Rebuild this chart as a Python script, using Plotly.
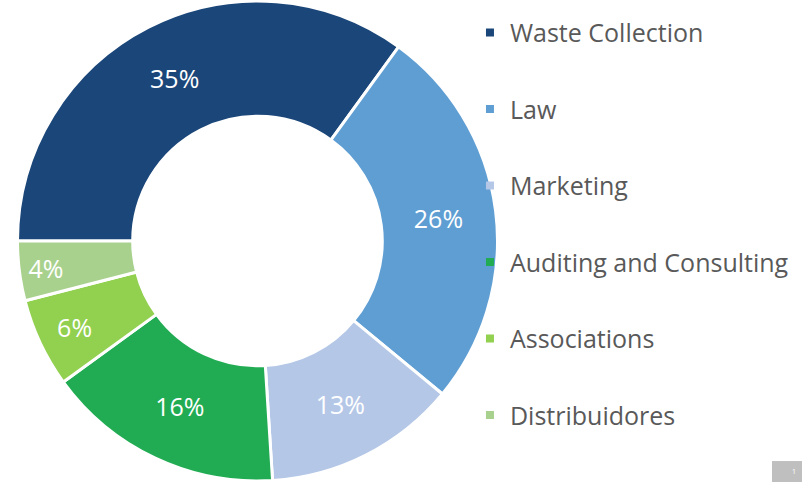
import plotly.graph_objects as go

# Slice data
categories = ['Waste Collection', 'Law', 'Marketing', 'Auditing and Consulting', 'Associations', 'Distribuidores']
shares = [35, 26, 13, 16, 6, 4]
colors = ['#1B4679', '#5F9ED3', '#B4C7E7', '#21AC53', '#92D050', '#A9D18E']

fig = go.Figure()

# Donut
fig.add_trace(go.Pie(
    labels=categories,
    values=shares,
    sort=False,
    direction='clockwise',
    rotation=-90,
    hole=0.52,
    marker=dict(colors=colors, line=dict(color='white', width=3)),
    textinfo='percent',
    texttemplate='%{percent:.0%}',
    textposition='inside',
    insidetextorientation='horizontal',
    textfont=dict(color='white', size=25, family='Open Sans'),
    domain=dict(x=[0.0218, 0.6203], y=[0, 1]),
    showlegend=False,
))

# Legend entries (one per category so they can be spaced out)
for name, col in zip(categories, colors):
    fig.add_trace(go.Scatter(
        x=[None], y=[None], mode='markers', name=name, legendgroup=name,
        marker=dict(symbol='square', size=8, color=col),
    ))

fig.update_layout(
    width=802,
    height=482,
    margin=dict(l=0, r=0, t=0, b=0),
    paper_bgcolor='white',
    plot_bgcolor='white',
    xaxis=dict(visible=False),
    yaxis=dict(visible=False),
    uniformtext=dict(minsize=25, mode='show'),
    legend=dict(
        x=0.586, y=0.98, xanchor='left', yanchor='top',
        font=dict(family='Open Sans', size=25, color='#595959'),
        tracegroupgap=41,
        itemwidth=30,
        itemsizing='trace',
        bgcolor='rgba(0,0,0,0)',
    ),
    shapes=[dict(type='rect', xref='paper', yref='paper', x0=0.9626, x1=1, y0=0, y1=0.0435,
                 fillcolor='#BFBFBF', line=dict(width=0))],
    annotations=[dict(text='1', xref='paper', yref='paper', x=0.99, y=0.008, xanchor='center',
                      yanchor='bottom', showarrow=False, font=dict(size=7, color='white'))],
)

# page body margin off so the figure sits at the window's top-left corner
fig.write_html("out.html", config={'displayModeBar': False},
               post_script="document.body.style.margin='0px';")
